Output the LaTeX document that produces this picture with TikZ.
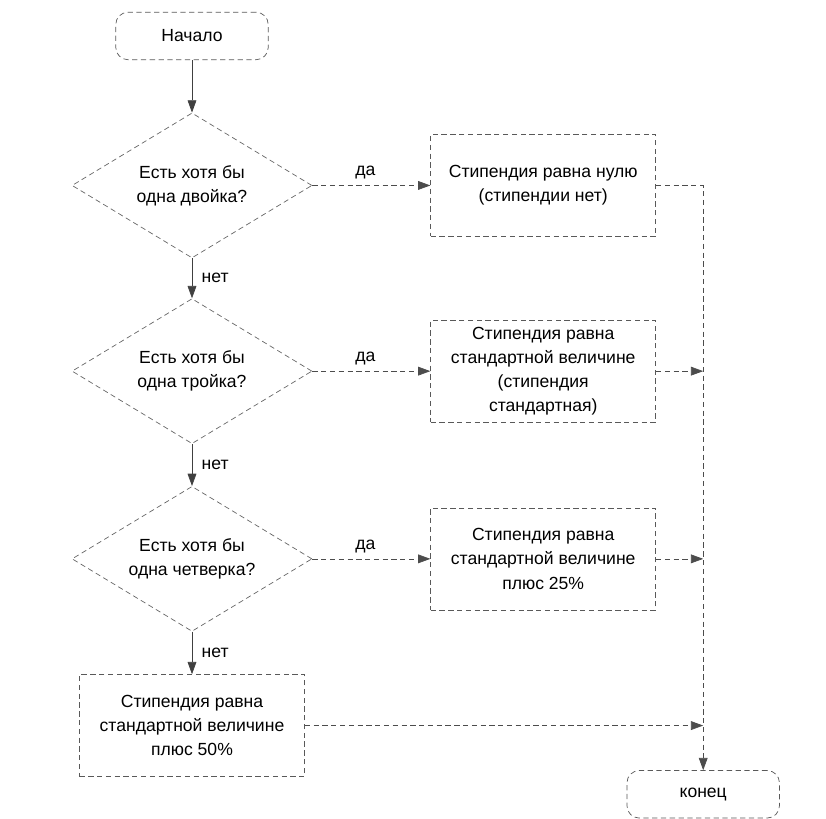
\documentclass[tikz,border=0pt]{standalone}
\usepackage{fontspec}
\setmainfont{Liberation Sans}
\usetikzlibrary{shapes.geometric, arrows.meta, positioning}

\begin{document}
\begin{tikzpicture}[
  font=\fontsize{10}{13.8}\selectfont,
  terminal/.style={
    draw=black!65, densely dashed, rounded corners=7pt,
    minimum width=3.05cm, minimum height=0.95cm
  },
  question/.style={
    diamond, draw=black!60, densely dashed, aspect=1.8,
    inner sep=1pt, minimum width=4.8cm, minimum height=2.9cm,
    align=center
  },
  result/.style={
    draw=black!65, densely dashed,
    minimum width=4.5cm, minimum height=2.04cm,
    align=center
  },
  down/.style={-{Triangle[length=7pt, width=5pt]}, draw=black!75, thin},
  flow/.style={-{Triangle[length=7pt, width=5pt]}, draw=black!70, thin,
    densely dashed}
]

% ---- page frame ----
\useasboundingbox (0,0) rectangle (16.52,-16.38);

% ---- Start ----
\node[terminal] (Begin) at (3.84,-0.72) {Начало};

% ---- Questions ----
\node[question, below=1.05cm of Begin] (Q1) {%
  Есть хотя бы\\ одна двойка?};
\node[question, below=0.8cm of Q1] (Q2) {%
  Есть хотя бы\\ одна тройка?};
\node[question, below=0.84cm of Q2] (Q3) {%
  Есть хотя бы\\ одна четверка?};

% ---- Results ----
\node[result, right=2.36cm of Q1] (R1) {%
  Стипендия равна нулю\\ (стипендии нет)};
\node[result, right=2.36cm of Q2] (R2) {%
  Стипендия равна\\ стандартной величине\\ (стипендия\\ стандартная)};
\node[result, right=2.36cm of Q3] (R3) {%
  Стипендия равна\\ стандартной величине\\ плюс 25\%};
\node[result, below=0.85cm of Q3] (R4) {%
  Стипендия равна\\ стандартной величине\\ плюс 50\%};

% ---- End ----
\node[terminal, below=3.2cm of R3, xshift=3.2cm] (End) {конец};

% ---- Arrows down the main column ----
\draw[down] (Begin) -- (Q1);
\draw[down] (Q1) -- node[right, xshift=2pt] {нет} (Q2);
\draw[down] (Q2) -- node[right, xshift=2pt] {нет} (Q3);
\draw[down] (Q3) -- node[right, xshift=2pt] {нет} (R4);

% ---- Yes branches ----
\draw[flow] (Q1.east) -- node[above, pos=0.45] {да} (R1);
\draw[flow] (Q2.east) -- node[above, pos=0.45] {да} (R2);
\draw[flow] (Q3.east) -- node[above, pos=0.45] {да} (R3);

% ---- Collector line to the end ----
\draw[flow] (R1.east) -| (End.north);
\draw[flow] (R2.east) -- (R2.east -| End.north);
\draw[flow] (R3.east) -- (R3.east -| End.north);
\draw[flow] (R4.east) -- (R4.east -| End.north);

\end{tikzpicture}
\end{document}
